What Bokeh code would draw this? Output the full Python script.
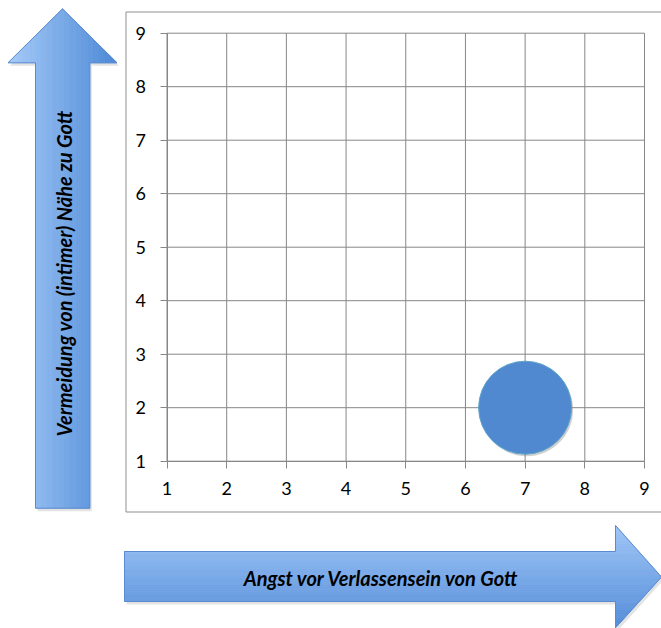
import numpy as np
from bokeh.plotting import figure
from bokeh.models import Range1d, FixedTicker, Label, ColumnDataSource
from bokeh.transform import dodge
from bokeh.embed import file_html
from bokeh.resources import INLINE

# ---------------- data ----------------
x_values = [7]
y_values = [2]
bubble_sizes = [1.0]
x_ticks = [1, 2, 3, 4, 5, 6, 7, 8, 9]
y_ticks = [1, 2, 3, 4, 5, 6, 7, 8, 9]
x_title = "Angst vor Verlassensein von Gott"
y_title = "Vermeidung von (intimer) Nähe zu Gott"

# ---------------- layout ----------------
W, H = 661, 628
FONT = "Lato"
GRID = "#878787"
# pixel positions of the value grid on the canvas
PX_X1, PX_X9 = 166.5, 644.0
PX_Y1, PX_Y9 = 460.7, 32.7
ux = (PX_X9 - PX_X1) / (x_ticks[-1] - x_ticks[0])
uy = (PX_Y1 - PX_Y9) / (y_ticks[-1] - y_ticks[0])
x_start = x_ticks[0] - PX_X1 / ux
y_end = y_ticks[-1] + PX_Y9 / uy

p = figure(width=W, height=H,
           x_range=Range1d(x_start, x_start + W / ux),
           y_range=Range1d(y_end - H / uy, y_end),
           output_backend="svg", toolbar_location=None,
           min_border=0, min_border_left=0, min_border_right=0,
           min_border_top=0, min_border_bottom=0)
p.title.visible = False
p.background_fill_color = "white"
p.border_fill_color = "white"
p.outline_line_color = None
p.xgrid.visible = False
p.ygrid.visible = False

for ax, ticks, loc in ((p.xaxis[0], x_ticks, y_ticks[0]), (p.yaxis[0], y_ticks, x_ticks[0])):
    ax.ticker = FixedTicker(ticks=ticks)
    ax.fixed_location = loc
    ax.bounds = (ticks[0], ticks[-1])
    ax.axis_line_color = GRID
    ax.major_tick_line_color = GRID
    ax.major_tick_out = 7
    ax.major_tick_in = 0
    ax.minor_tick_line_color = None
    ax.major_label_text_font = FONT
    ax.major_label_text_font_size = "18px"
    ax.major_label_text_color = "black"
    ax.major_label_standoff = 14


def dx(px):
    return x_start + px / ux


def dy(py):
    return y_end - py / uy


def mix(c0, c1, t):
    r, g, b = [int(round(a + (b_ - a) * t)) for a, b_ in zip(c0, c1)]
    return "#%02x%02x%02x" % (r, g, b)


# value grid lines (drawn from the tick lists)
p.segment(x0=x_ticks, y0=[y_ticks[0]] * len(x_ticks), x1=x_ticks, y1=[y_ticks[-1]] * len(x_ticks),
          line_color=GRID, line_width=1)
p.segment(x0=[x_ticks[0]] * len(y_ticks), y0=y_ticks, x1=[x_ticks[-1]] * len(y_ticks), y1=y_ticks,
          line_color=GRID, line_width=1)

# outer chart-area border
p.line(x=[dx(v) for v in (700, 125.5, 125.5, 700)], y=[dy(v) for v in (11.5, 11.5, 511.5, 511.5)],
       line_color="#8f8f8f", line_width=1)

# ---------- vertical arrow (gradient left->right) ----------
tipx, tipy = 62.0, 8.3
hl, hr, hb = 7.5, 116.5, 62.3
sl, sr, sb = 35.0, 89.3, 507.7
v_outline_x = [tipx, hr, sr, sr, sl, sl, hl]
v_outline_y = [tipy, hb, hb, sb, sb, hb, hb]


def vtop(x):
    return tipy + abs(x - tipx) * (hb - tipy) / (tipx - hl)


def vbot(x):
    return sb if sl - 1e-6 <= x <= sr + 1e-6 else hb


# ---------- horizontal arrow (gradient top->bottom) ----------
ax0, hx, tx = 124.0, 615.0, 661.0
st, sbm = 551.0, 601.0
ht, hbm, ty = 525.0, 627.3, 576.5
h_outline_x = [ax0, hx, hx, tx, hx, hx, ax0]
h_outline_y = [st, st, ht, ty, hbm, sbm, sbm]


def hright(y):
    if y <= ty:
        return hx + (y - ht) * (tx - hx) / (ty - ht)
    return hx + (hbm - y) * (tx - hx) / (hbm - ty)


def hleft(y):
    return ax0 if st - 1e-6 <= y <= sbm + 1e-6 else hx


# shadows
p.patches(xs=[[dx(v + 2) for v in v_outline_x], [dx(v + 2) for v in h_outline_x]],
          ys=[[dy(v + 3) for v in v_outline_y], [dy(v + 3) for v in h_outline_y]],
          fill_color="#808080", fill_alpha=0.22, line_alpha=0)

sx, sy, sc = [], [], []
bounds = sorted(set(np.round(np.concatenate([np.linspace(hl, hr, 46), [sl, sr, tipx]]), 3)))
cL, cR = (166, 203, 248), (76, 136, 214)
for x0, x1 in zip(bounds[:-1], bounds[1:]):
    xm = 0.5 * (x0 + x1)
    b = vbot(xm)
    sx.append([dx(v) for v in (x0, x0, x1, x1)])
    sy.append([dy(v) for v in (b, vtop(x0), vtop(x1), b)])
    sc.append(mix(cL, cR, (xm - hl) / (hr - hl)))

ybounds = sorted(set(np.round(np.concatenate([np.linspace(ht, hbm, 46), [st, sbm, ty]]), 3)))
cT, cB = (160, 198, 247), (84, 141, 217)
for y0, y1 in zip(ybounds[:-1], ybounds[1:]):
    ym = 0.5 * (y0 + y1)
    l = hleft(ym)
    sx.append([dx(v) for v in (l, hright(y0), hright(y1), l)])
    sy.append([dy(v) for v in (y0, y0, y1, y1)])
    sc.append(mix(cT, cB, (ym - ht) / (hbm - ht)))

p.patches(xs=sx, ys=sy, fill_color=sc, line_color=sc, line_width=0.7)
p.patches(xs=[[dx(v) for v in v_outline_x], [dx(v) for v in h_outline_x]],
          ys=[[dy(v) for v in v_outline_y], [dy(v) for v in h_outline_y]],
          fill_alpha=0, line_color="#5a8bd0", line_width=1)

# ---------- arrow titles ----------
p.add_layout(Label(x=dx(381), y=dy(577), text=x_title, text_align="center",
                   text_baseline="middle", text_font=FONT, text_font_style="bold italic",
                   text_font_size="20px", text_color="black"))
p.add_layout(Label(x=dx(63), y=dy(273), text=y_title, angle=np.pi / 2,
                   text_align="center", text_baseline="middle", text_font=FONT,
                   text_font_style="bold italic", text_font_size="20px", text_color="black"))

# ---------- bubble ----------
BUBBLE_PX = 93
src = ColumnDataSource(dict(x=x_values, y=y_values,
                            size=[BUBBLE_PX * np.sqrt(s) for s in bubble_sizes]))
p.scatter(x=dodge("x", 1.5 / ux, range=p.x_range), y=dodge("y", -2.0 / uy, range=p.y_range),
          size="size", source=src, fill_color="#7a7a7a", fill_alpha=0.35, line_alpha=0)
p.scatter(x="x", y="y", size="size", source=src, fill_color="#5089d0",
          line_color="#5ea6c9", line_width=1)

open("out.html", "w").write(file_html(p, INLINE))
